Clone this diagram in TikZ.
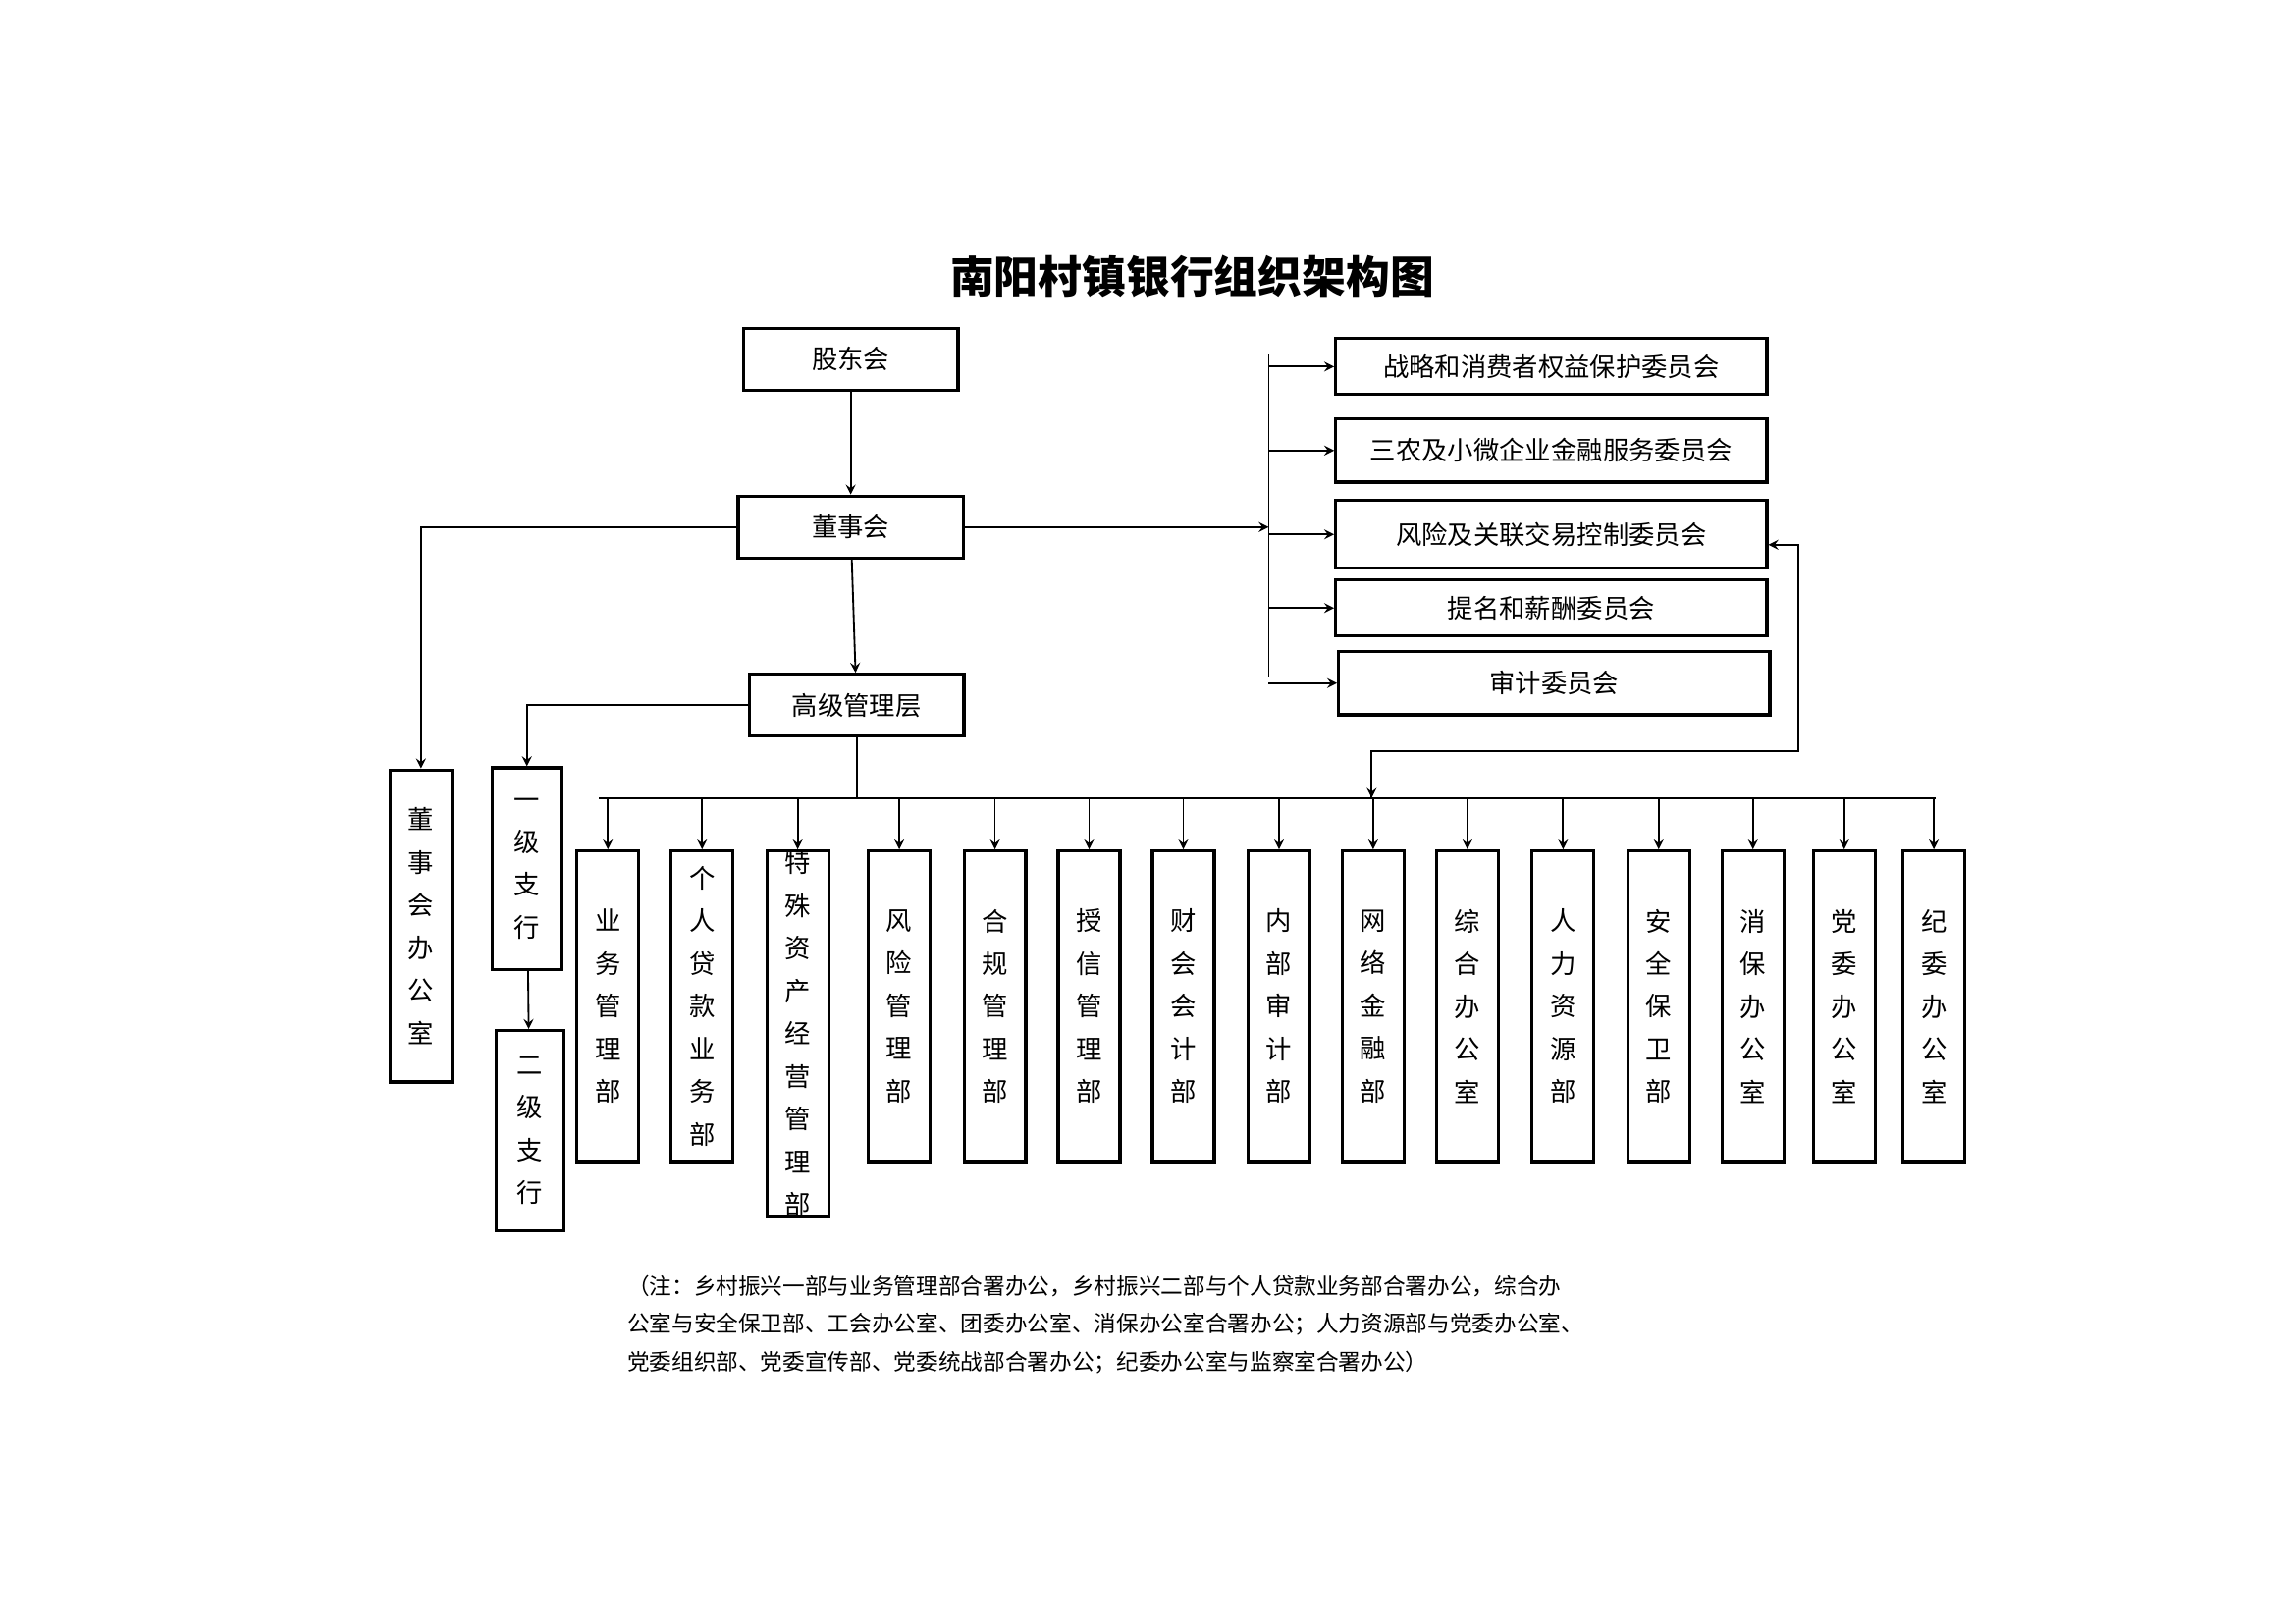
\documentclass[tikz,border=0pt]{standalone}
\usepackage{fontspec}
\setmainfont{Noto Sans CJK SC}
\usetikzlibrary{positioning}

\tikzset{
  box/.style={draw=black,line width=1.2pt,inner sep=0pt,font=\fontsize{10}{16.5}\selectfont},
  vbox/.style={box,minimum width=0.84cm,minimum height=4.22cm,align=center,text width=0.5cm},
  arr/.style={->,>=stealth,line width=0.7pt}
}

\begin{document}
\begin{tikzpicture}[x=0.02cm,y=-0.02cm]
    \useasboundingbox (0,0) rectangle (1560,1103);

    \node[font=\fontsize{17}{20}\selectfont\bfseries] (title) at (810,188) {南阳村镇银行组织架构图};

    \node[box,minimum width=2.92cm,minimum height=0.84cm] (gdh) at (578,244) {股东会};
    \node[box,minimum width=3.06cm,minimum height=0.84cm] (dsh) at (578,358) {董事会};
    \node[box,minimum width=2.92cm,minimum height=0.84cm] (gjglc) at (582,479) {高级管理层};

    % committees
    \node[box,minimum width=5.86cm,minimum height=0.76cm] (c1) at (1054,249) {战略和消费者权益保护委员会};
    \node[box,minimum width=5.86cm,minimum height=0.86cm] (c2) at (1054,306) {三农及小微企业金融服务委员会};
    \node[box,minimum width=5.86cm,minimum height=0.92cm] (c3) at (1054,363) {风险及关联交易控制委员会};
    \node[box,minimum width=5.86cm,minimum height=0.76cm] (c4) at (1054,413) {提名和薪酬委员会};
    \node[box,minimum width=5.86cm,minimum height=0.86cm] (c5) at (1056,464) {审计委员会};

    \node[vbox,minimum height=4.24cm] (dshbgs) at (286,629) {董\\事\\会\\办\\公\\室};
    \node[vbox,minimum width=0.94cm,minimum height=2.74cm] (yjzh) at (358,590) {一\\级\\支\\行};
    \node[vbox,minimum width=0.92cm,minimum height=2.72cm] (ejzh) at (360,768) {二\\级\\支\\行};

    % departments
    \foreach \x/\t/\n in {413/业\\务\\管\\理\\部/d1, 477/个\\人\\贷\\款\\业\\务\\部/d2,
      542/特\\殊\\资\\产\\经\\营\\管\\理\\部/d3, 611/风\\险\\管\\理\\部/d4,
      676/合\\规\\管\\理\\部/d5, 740/授\\信\\管\\理\\部/d6, 804/财\\会\\会\\计\\部/d7,
      869/内\\部\\审\\计\\部/d8, 933/网\\络\\金\\融\\部/d9, 997/综\\合\\办\\公\\室/d10,
      1062/人\\力\\资\\源\\部/d11, 1127/安\\全\\保\\卫\\部/d12, 1191/消\\保\\办\\公\\室/d13,
      1253/党\\委\\办\\公\\室/d14, 1314/纪\\委\\办\\公\\室/d15}
    {
      \node[vbox,anchor=north] (\n) at (\x,577) {\t};
    }

    \coordinate (bus) at (582,542);
    \coordinate (cbus) at (862,241);
    \coordinate (cbus2) at (862,460);

    \draw[arr] (gdh) -- (dsh);
    \draw[arr] (dsh) -- (gjglc);
    \draw[arr] (dsh.east) -- (862,358);
    \draw[line width=0.7pt] (cbus) -- (cbus2);
    \foreach \c in {c1,c2,c3,c4,c5}
      \draw[arr] (cbus |- \c) -- (\c.west);
    \draw[arr] (dsh.west) -| (dshbgs.north);
    \draw[arr] (gjglc.west) -| (yjzh.north);
    \draw[arr] (yjzh) -- (ejzh);
    \draw[line width=0.7pt] (gjglc) -- (bus);
    \draw[line width=0.7pt] (407,542) -- (1315,542);
    \foreach \n in {d1,d2,d3,d4,d5,d6,d7,d8,d9,d10,d11,d12,d13,d14,d15}
      \draw[arr] (\n.north |- bus) -- (\n.north);
    \draw[arr] (932,542) -- (932,510) -- (1222,510) -- (1222,370) -- (c3.east |- 0,370);
    \draw[arr] (1222,510) -- (932,510) -- (932,542);

    \node[anchor=north west,align=left,font=\fontsize{8.6}{14.6}\selectfont] (note) at (420,860)
      {（注：乡村振兴一部与业务管理部合署办公，乡村振兴二部与个人贷款业务部合署办公，综合办\\
       公室与安全保卫部、工会办公室、团委办公室、消保办公室合署办公；人力资源部与党委办公室、\\
       党委组织部、党委宣传部、党委统战部合署办公；纪委办公室与监察室合署办公）};
\end{tikzpicture}
\end{document}
